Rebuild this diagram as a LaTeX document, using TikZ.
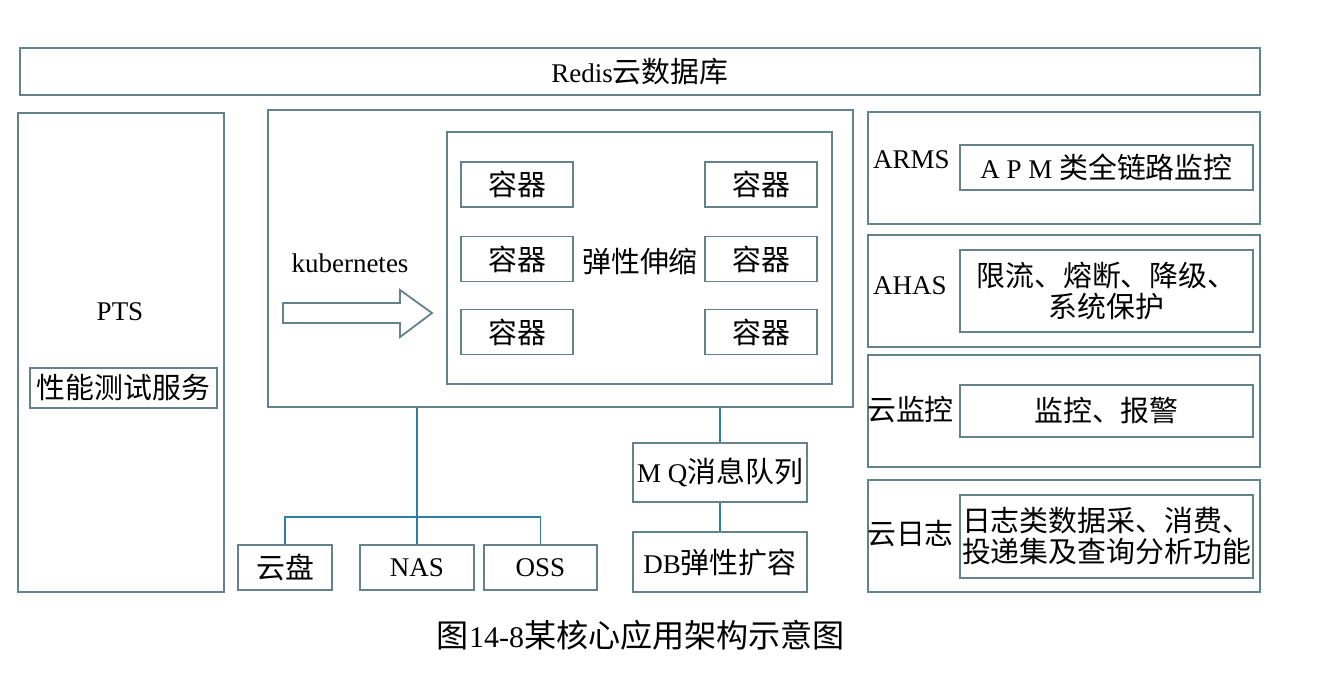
\documentclass[tikz,border=0pt]{standalone}
\usepackage{fontspec}
\setmainfont{Liberation Serif}
\newfontfamily\cjk[Scale=1.07]{Noto Sans CJK SC}
\usetikzlibrary{positioning}
\definecolor{boxline}{RGB}{100,130,140}
\definecolor{linkline}{RGB}{45,125,170}

\begin{document}
\begin{tikzpicture}[x=1pt, y=-1pt,
	every node/.style={font=\fontsize{27}{31}\selectfont, inner sep=0pt},
	box/.style={draw=boxline, line width=1.8pt, rectangle},
	link/.style={draw=linkline, line width=1.6pt}]
	\useasboundingbox[fill=white] (0,0) rectangle (1331,693);
	% top bar
	\node[box, minimum width=1240pt, minimum height=47pt] (redis) at (640,71.5) {Redis{\cjk 云数据库}};
	% left column
	\node[box, minimum width=206pt, minimum height=479pt] (pts) at (121,352.5) {};
	\node (ptsname) at (120,312) {PTS};
	\node[box, minimum width=187pt, minimum height=40pt] (ptsdesc) at (123.5,388) {\cjk 性能测试服务};
	% kubernetes
	\node[box, minimum width=585pt, minimum height=297pt] (k8s) at (560.5,258.5) {};
	\node (k8sname) at (350,263) {kubernetes};
	\draw[draw=boxline, line width=1.8pt] (283,303) -- (400,303) -- (400,290) -- (432,313) -- (400,337) -- (400,323) -- (283,323) -- cycle;
	\node[box, minimum width=385pt, minimum height=252pt] (pool) at (639.5,258) {};
	\foreach \n/\x/\y in {c1/517/184.5, c2/517/259, c3/517/332, c4/761/184.5, c5/761/259, c6/761/332}
		\node[box, minimum width=112pt, minimum height=45pt] (\n) at (\x,\y) {\cjk 容器};
	\node (scale) at (640,261) {\cjk 弹性伸缩};
	% right column
	\foreach \n/\y in {arms/168, ahas/291, cms/411, sls/536}
		\node[box, minimum width=392pt, minimum height=112pt] (\n) at (1064,\y) {};
	\node[anchor=west] (armsname) at (873,160) {ARMS};
	\node[anchor=west] (ahasname) at (873,286) {AHAS};
	\node[anchor=west] (cmsname) at (867,410) {\cjk 云监控};
	\node[anchor=west] (slsname) at (867,534) {\cjk 云日志};
	\node[box, minimum width=293pt, minimum height=45pt] (armsdesc) at (1106.5,167.5) {A P M {\cjk 类全链路监控}};
	\node[box, minimum width=293pt, minimum height=82pt, align=center] (ahasdesc) at (1106.5,291) {\cjk 限流、熔断、降级、\\\cjk 系统保护};
	\node[box, minimum width=293pt, minimum height=52pt] (cmsdesc) at (1106.5,411) {\cjk 监控、报警};
	\node[box, minimum width=293pt, minimum height=83pt, align=center] (slsdesc) at (1106.5,536.5) {\cjk 日志类数据采、消费、\\\cjk 投递集及查询分析功能};
	% storage and middleware
	\node[box, minimum width=94pt, minimum height=45pt] (disk) at (285,567.5) {\cjk 云盘};
	\node[box, minimum width=114pt, minimum height=45pt] (nas) at (417,567.5) {NAS};
	\node[box, minimum width=113pt, minimum height=45pt] (oss) at (540.5,567.5) {OSS};
	\node[box, minimum width=174pt, minimum height=59pt] (mq) at (720,472.5) {M Q{\cjk 消息队列}};
	\node[box, minimum width=174pt, minimum height=60pt] (db) at (720,562) {DB{\cjk 弹性扩容}};
	\coordinate (bar) at (417,517);
	\draw[link] (k8s.south -| nas.north) -- (nas.north);
	\draw[link] (disk.north) |- (bar) -| (oss.north);
	\draw[link] (k8s.south -| mq.north) -- (mq.north);
	\draw[link] (mq.south) -- (db.north);
	\node[font=\fontsize{30}{34}\selectfont] (caption) at (641,635) {{\cjk 图}14-8{\cjk 某核心应用架构示意图}};
\end{tikzpicture}
\end{document}
